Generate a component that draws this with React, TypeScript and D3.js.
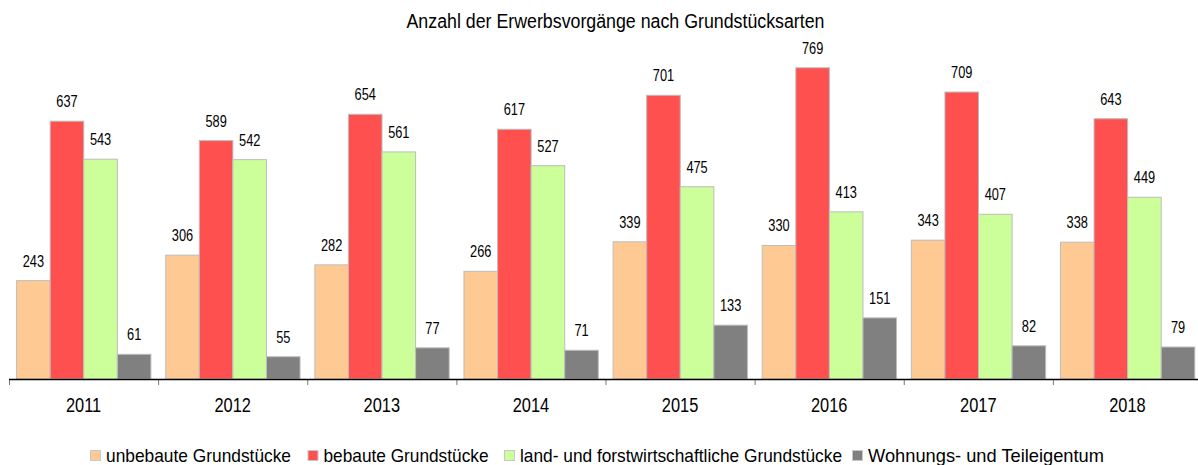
import React from "react";
import * as d3 from "d3";

const years = ["2011", "2012", "2013", "2014", "2015", "2016", "2017", "2018"];
const seriesNames = [
  "unbebaute Grundstücke",
  "bebaute Grundstücke",
  "land- und forstwirtschaftliche Grundstücke",
  "Wohnungs- und Teileigentum",
];
const unbebaut = [243, 306, 282, 266, 339, 330, 343, 338];
const bebaut = [637, 589, 654, 617, 701, 769, 709, 643];
const landForst = [543, 542, 561, 527, 475, 413, 407, 449];
const wohnung = [61, 55, 77, 71, 133, 151, 82, 79];
const colors = ["#FFC993", "#FF5050", "#CCFF99", "#808080"];

const W = 1198;
const H = 465;
const baseY = 379;
const font = "'Liberation Sans', Arial, sans-serif";

export default function App() {
  const values = [unbebaut, bebaut, landForst, wohnung];

  // outer bands: one per year, slightly wider than the window on the right
  const x0 = d3.scaleBand<string>().domain(years).range([9, 1202]).paddingInner(0);
  const x1 = d3
    .scaleBand<number>()
    .domain([0, 1, 2, 3])
    .range([7.6, x0.bandwidth() - 7.2]);
  const y = d3.scaleLinear().domain([0, 800]).range([baseY, baseY - 323.8]);

  // legend layout: square x and text widths of the original
  const legendX = [90, 307.5, 504, 852];
  const legendW = [185, 165, 322, 236];

  return (
    <svg
      width={W}
      height={H}
      style={{ position: "absolute", left: 0, top: 0, background: "#fff" }}
      fontFamily={font}
    >
      <text
        x={406.5}
        y={28}
        fontSize={19.5}
        textLength={418}
        lengthAdjust="spacingAndGlyphs"
        fill="#000"
      >
        Anzahl der Erwerbsvorgänge nach Grundstücksarten
      </text>

      {years.map((yr, i) => (
        <g key={yr} transform={`translate(${x0(yr)},0)`}>
          {values.map((vals, s) => {
            const v = vals[i];
            const bx = x1(s)!;
            const bw = x1.bandwidth();
            return (
              <g key={s}>
                <rect
                  x={bx}
                  y={y(v)}
                  width={bw}
                  height={baseY - y(v)}
                  fill={colors[s]}
                  stroke="#bdbdbd"
                  strokeWidth={1}
                />
                <text
                  transform={`translate(${bx + bw / 2},${y(v) - 14}) scale(0.8,1)`}
                  textAnchor="middle"
                  fontSize={16}
                  fill="#000"
                >
                  {v}
                </text>
              </g>
            );
          })}
          <text
            transform={`translate(${x0.bandwidth() / 2},412) scale(0.8,1)`}
            textAnchor="middle"
            fontSize={20.5}
            fill="#000"
          >
            {yr}
          </text>
        </g>
      ))}

      {/* category axis */}
      {years.map((yr) => (
        <line
          key={"t" + yr}
          x1={x0(yr)! + 0.5}
          x2={x0(yr)! + 0.5}
          y1={baseY}
          y2={baseY + 6}
          stroke="#777"
          strokeWidth={1}
        />
      ))}
      <line x1={9} x2={W} y1={baseY + 0.5} y2={baseY + 0.5} stroke="#000" strokeWidth={1.3} />

      {/* legend */}
      {seriesNames.map((name, s) => (
        <g key={name}>
          <rect
            x={legendX[s] + 0.5}
            y={450.5}
            width={10}
            height={10}
            fill={colors[s]}
            stroke="#c8c8c8"
            strokeWidth={1}
          />
          <text
            x={legendX[s] + 16}
            y={461.5}
            fontSize={18.5}
            textLength={legendW[s]}
            lengthAdjust="spacingAndGlyphs"
            fill="#000"
          >
            {name}
          </text>
        </g>
      ))}
    </svg>
  );
}
